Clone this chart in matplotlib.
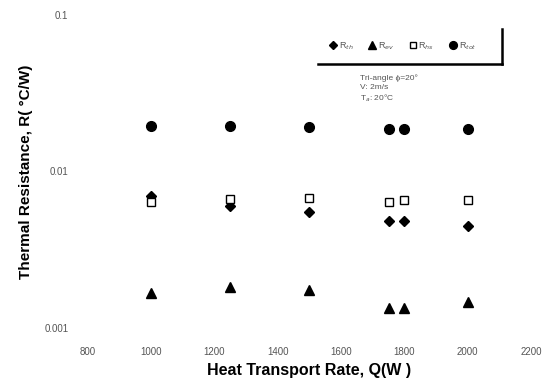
import matplotlib
matplotlib.use("Agg")
import matplotlib.pyplot as plt

# heat transport rate (W)
Q = [1000, 1250, 1500, 1750, 1800, 2000]

# thermal resistances (C/W)
R_diamond = [0.00697, 0.00604, 0.00548, 0.00481, 0.00481, 0.00451]
R_triangle = [0.00167, 0.00184, 0.00175, 0.00135, 0.00135, 0.00147]
R_square = [0.00638, 0.00667, 0.00677, 0.00638, 0.00657, 0.00657]
R_circle = [0.0195, 0.0195, 0.0193, 0.0186, 0.0188, 0.0186]

seriesLabels = ["R$_{th}$", "R$_{ev}$", "R$_{hs}$", "R$_{tot}$"]
xTicks = [800, 1000, 1200, 1400, 1600, 1800, 2000, 2200]
yTicks = [0.001, 0.01, 0.1]
yTickLabels = ["0.001", "0.01", "0.1"]

plt.rcParams['font.family'] = ['Liberation Sans', 'DejaVu Sans']

fig = plt.figure(figsize=(5.52, 3.81), dpi=100)
ax = fig.add_axes([0.159, 0.139, 0.803, 0.822])

ax.plot(Q, R_diamond, linestyle="none", marker="D", ms=5.5, color="black", label=seriesLabels[0])
ax.plot(Q, R_triangle, linestyle="none", marker="^", ms=7.0, color="black", label=seriesLabels[1])
ax.plot(Q, R_square, linestyle="none", marker="s", ms=5.5, mfc="white", mec="black", mew=1.0, label=seriesLabels[2])
ax.plot(Q, R_circle, linestyle="none", marker="o", ms=7.0, color="black", label=seriesLabels[3])

ax.set_yscale("log")
ax.set_xlim(800, 2200)
ax.set_ylim(0.001, 0.1)
ax.set_xticks(xTicks)
ax.set_xticklabels([str(t) for t in xTicks])
ax.set_yticks(yTicks)
ax.set_yticklabels(yTickLabels)
ax.minorticks_off()
for s in ax.spines.values():
    s.set_visible(False)
ax.tick_params(axis="both", length=0, labelsize=7, colors="#555555")
ax.tick_params(axis="x", pad=14)
ax.tick_params(axis="y", pad=14)

ax.set_xlabel("Heat Transport Rate, Q(W )", fontsize=11.5, fontweight="bold", labelpad=4)
ax.set_ylabel("Thermal Resistance, R( °C/W)", fontsize=11, fontweight="bold", labelpad=8)

leg = ax.legend(loc="center", bbox_to_anchor=(0.71, 0.9), ncol=4, frameon=False,
                fontsize=6.5, handletextpad=0.1, columnspacing=1.6, handlelength=1.0,
                markerscale=0.8)
for t in leg.get_texts():
    t.set_color("#555555")

# legend box edges (bottom and right only, as in the scan)
ax.plot([0.52, 0.935], [0.842, 0.842], transform=ax.transAxes, color="black", lw=1.8, clip_on=False)
ax.plot([0.935, 0.935], [0.842, 0.955], transform=ax.transAxes, color="black", lw=1.8, clip_on=False)

ax.text(0.615, 0.81, "Tri-angle \u03d5=20\u00b0\nV: 2m/s\nT$_a$: 20\u00b0C", transform=ax.transAxes,
        fontsize=6, color="#555555", va="top", linespacing=1.3)

fig.savefig("out.png", dpi=100)
